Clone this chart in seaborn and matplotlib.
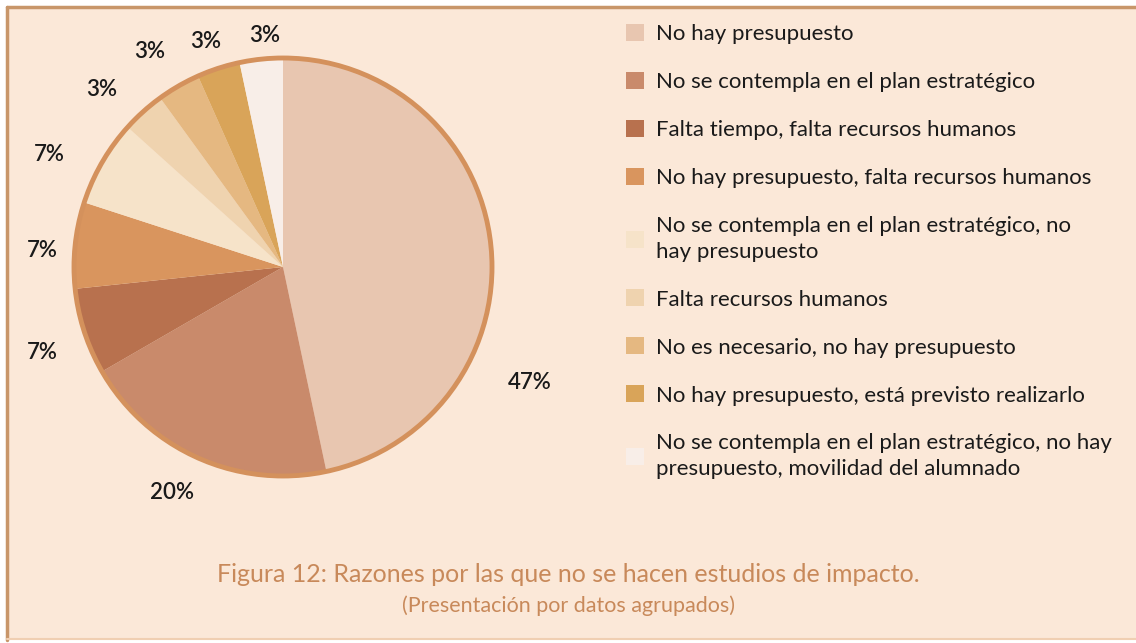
import matplotlib.pyplot as plt
import matplotlib.patches as mpatches
import seaborn as sns

# datos: 30 centros que no hacen estudios de impacto
categories = [
    "No hay presupuesto",
    "No se contempla en el plan estratégico",
    "Falta tiempo, falta recursos humanos",
    "No hay presupuesto, falta recursos humanos",
    "No se contempla en el plan estratégico, no\nhay presupuesto",
    "Falta recursos humanos",
    "No es necesario, no hay presupuesto",
    "No hay presupuesto, está previsto realizarlo",
    "No se contempla en el plan estratégico, no hay\npresupuesto, movilidad del alumnado",
]
counts = [14, 6, 2, 2, 2, 1, 1, 1, 1]
colors = ["#E8C6B0", "#C98A6B", "#B8714E", "#D9955E", "#F6E3C9",
          "#EFD3AF", "#E5B881", "#D9A459", "#F8EEE8"]

BG = "#FBE8D8"
EDGE = "#D4915C"

sns.set_theme(style="white")
plt.rcParams['font.family'] = ['Lato', 'DejaVu Sans']

fig = plt.figure(figsize=(11.36, 6.43), dpi=100)
fig.patch.set_facecolor("white")

W, H = 1136, 643
# fondo y marco
fig.patches.append(mpatches.Rectangle((7 / W, 3 / H), 1 - 7 / W, 1 - 10 / H,
                                      transform=fig.transFigure, facecolor=BG,
                                      edgecolor="none", zorder=-5))
fig.add_artist(plt.Line2D([7 / W, 1], [1 - 7 / H, 1 - 7 / H], color="#C8966A", lw=2.5))
fig.add_artist(plt.Line2D([7 / W, 7 / W], [3 / H, 1 - 7 / H], color="#C8966A", lw=2.5))
fig.add_artist(plt.Line2D([7 / W, 1], [4 / H, 4 / H], color="#F0CFB2", lw=1.5))

# pie
cx, cy, r = 283, 267, 209
ax = fig.add_axes([(cx - r) / W, (H - cy - r) / H, 2 * r / W, 2 * r / H])
ax.set_facecolor("none")
ax.set_zorder(2)
total = sum(counts)
labels = [f"{round(c / total * 100)}%" for c in counts]
wedges, texts = ax.pie(counts, colors=colors, startangle=90, counterclock=False,
                       labels=labels, labeldistance=1.2,
                       wedgeprops=dict(linewidth=0),
                       textprops=dict(fontsize=16, color="#1a1a1a", weight="semibold"))
ax.add_patch(mpatches.Circle((0, 0), 1, fill=False, lw=3.5, ec=EDGE,
                             zorder=5, clip_on=False))
# ajustes de posición de etiquetas como en el original
label_pos = [(1.18, -0.555), (-0.53, -1.08), (-1.15, -0.41), (-1.15, 0.08),
             (-1.12, 0.54), (-0.87, 0.85), (-0.64, 1.03), (-0.37, 1.08),
             (-0.09, 1.11)]
for t, p in zip(texts, label_pos):
    t.set_position(p)
    t.set_ha("center")
    t.set_va("center")
ax.set_xlim(-1, 1)
ax.set_ylim(-1, 1)
ax.axis("off")

leg = fig.legend(wedges, categories, loc="upper left",
                 bbox_to_anchor=(626 / W, 1 - 24 / H), frameon=False,
                 fontsize=16, handlelength=0.8, handleheight=0.8,
                 handletextpad=0.55, labelspacing=1.25, borderpad=0,
                 borderaxespad=0)
for t in leg.get_texts():
    t.set_color("#1a1a1a")
    t.set_linespacing(1.35)

fig.text(0.5, 1 - 575 / H, "Figura 12: Razones por las que no se hacen estudios de impacto.",
         ha="center", va="center", fontsize=18, color="#C8895A")
fig.text(0.5, 1 - 606 / H, "(Presentación por datos agrupados)",
         ha="center", va="center", fontsize=15.5, color="#C8895A")

plt.savefig("out.png", dpi=100, facecolor=fig.get_facecolor())
